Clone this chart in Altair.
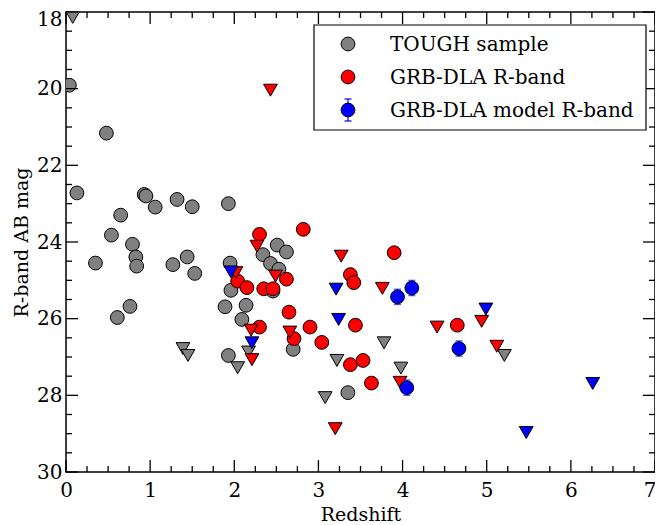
import altair as alt
import pandas as pd

FONT = "DejaVu Serif"
W, H = 589, 460

# ---- data ----
tough_z = [0.04, 0.48, 0.13, 0.93, 0.95, 1.06, 1.32, 1.50, 1.93, 0.65, 0.54, 0.79, 0.83, 0.84,
           0.35, 1.27, 1.44, 1.53, 1.95, 1.96, 0.76, 0.61, 1.89, 2.14, 2.09, 1.93, 2.51, 2.62,
           2.34, 2.43, 2.53, 2.46, 2.70, 3.35]
tough_mag = [19.91, 21.16, 22.72, 22.76, 22.80, 23.09, 22.89, 23.08, 23.00, 23.30, 23.82, 24.06,
             24.39, 24.63, 24.55, 24.59, 24.39, 24.82, 24.55, 25.26, 25.68, 25.97, 25.69, 25.65,
             26.02, 26.96, 24.08, 24.26, 24.33, 24.56, 24.71, 25.28, 26.80, 27.93]

tough_lim_z = [0.08, 1.39, 1.45, 2.04, 2.17, 3.22, 3.08, 3.78, 3.98, 5.21]
tough_lim_mag = [18.14, 26.78, 26.96, 27.28, 26.87, 27.09, 28.06, 26.63, 27.29, 26.96]

red_z = [2.82, 2.30, 2.04, 2.15, 2.35, 2.46, 2.62, 3.38, 3.42, 3.90, 2.65, 2.30, 2.90, 3.44,
         2.71, 3.04, 3.38, 3.53, 3.63, 4.65]
red_mag = [23.67, 23.80, 25.02, 25.19, 25.22, 25.22, 24.97, 24.85, 25.06, 24.28, 25.83, 26.22,
           26.22, 26.17, 26.52, 26.62, 27.20, 27.09, 27.68, 26.17]

red_lim_z = [2.43, 2.27, 2.49, 3.27, 3.76, 2.02, 2.20, 2.66, 2.21, 3.20, 3.97, 4.41, 4.94, 5.12]
red_lim_mag = [20.04, 24.11, 24.89, 24.37, 25.21, 24.80, 26.30, 26.35, 27.07, 28.87, 27.66,
               26.22, 26.07, 26.72]

blue_z = [3.94, 4.11, 4.67, 4.05]
blue_mag = [25.43, 25.20, 26.78, 27.80]
blue_err = [0.2, 0.2, 0.2, 0.2]

blue_lim_z = [1.96, 2.21, 3.21, 3.24, 4.99, 5.47, 6.26]
blue_lim_mag = [24.78, 26.63, 25.23, 26.02, 25.75, 28.97, 27.69]

x_major = [0, 1, 2, 3, 4, 5, 6, 7]
x_minor = [0.25, 0.5, 0.75, 1.25, 1.5, 1.75, 2.25, 2.5, 2.75, 3.25, 3.5, 3.75,
           4.25, 4.5, 4.75, 5.25, 5.5, 5.75, 6.25, 6.5, 6.75]
y_major = [18, 20, 22, 24, 26, 28, 30]
y_minor = [18.5, 19, 19.5, 20.5, 21, 21.5, 22.5, 23, 23.5, 24.5, 25, 25.5,
           26.5, 27, 27.5, 28.5, 29, 29.5]

legend_labels = ["TOUGH sample", "GRB-DLA R-band", "GRB-DLA model R-band"]
legend_colors = ["#808080", "#ff0000", "#0000ff"]

# ---- scales / axes ----
xs = alt.Scale(domain=[0, 7], nice=False, zero=False)
ys = alt.Scale(domain=[18, 30], nice=False, zero=False, reverse=True)
xaxis = alt.Axis(values=x_major, title="Redshift", ticks=False, domain=False, grid=False,
                 labelPadding=8, format="d", labelFlush=False,
                 labelAlign=alt.ExprRef(expr="datum.value == 7 ? 'right' : 'center'"),
                 labelOffset=alt.ExprRef(expr="datum.value == 7 ? 1 : 0"),
                 titleFontSize=19, titleY=48, titleBaseline="alphabetic")
yaxis = alt.Axis(values=y_major, title="R-band AB mag", ticks=False, domain=False, grid=False,
                 labelPadding=4, titlePadding=5, titleFontSize=19, format="d", labelFlush=False,
                 labelBaseline=alt.ExprRef(expr="datum.value == 18 ? 'top' : 'middle'"),
                 labelOffset=alt.ExprRef(expr="datum.value == 18 ? -3 : 0"))


def X(f="z"):
    return alt.X(f"{f}:Q", scale=xs, axis=xaxis)


def Y(f="mag"):
    return alt.Y(f"{f}:Q", scale=ys, axis=yaxis)


def pts(z, m, color, shape):
    df = pd.DataFrame({"z": z, "mag": m})
    return alt.Chart(df).mark_point(
        shape=shape, size=190, filled=True, fill=color, stroke="black",
        strokeWidth=1, opacity=1, fillOpacity=1, clip=True
    ).encode(x=X(), y=Y())


layers = []
layers.append(pts(tough_z, tough_mag, "#808080", "circle"))
layers.append(pts(tough_lim_z, tough_lim_mag, "#808080", "triangle-down"))
layers.append(pts(red_z, red_mag, "#ff0000", "circle"))
layers.append(pts(red_lim_z, red_lim_mag, "#ff0000", "triangle-down"))

bdf = pd.DataFrame({"z": blue_z, "mag": blue_mag, "err": blue_err})
bdf["lo"] = bdf["mag"] - bdf["err"]
bdf["hi"] = bdf["mag"] + bdf["err"]
layers.append(alt.Chart(bdf).mark_rule(color="#0000ff", strokeWidth=1.2).encode(
    x=X(), y=Y("lo"), y2="hi:Q"))
layers.append(alt.Chart(bdf).mark_tick(color="#0000ff", orient="horizontal", size=7,
                                       thickness=1.2).encode(x=X(), y=Y("lo")))
layers.append(alt.Chart(bdf).mark_tick(color="#0000ff", orient="horizontal", size=7,
                                       thickness=1.2).encode(x=X(), y=Y("hi")))
layers.append(pts(blue_z, blue_mag, "#0000ff", "circle"))
layers.append(pts(blue_lim_z, blue_lim_mag, "#0000ff", "triangle-down"))

# ---- inward ticks on all four sides ----
def xticks(vals, length):
    df = pd.DataFrame({"z": vals})
    bot = alt.Chart(df).mark_rule(color="black", strokeWidth=1.3).encode(
        x=X(), y=alt.value(H), y2=alt.value(H - length))
    top = alt.Chart(df).mark_rule(color="black", strokeWidth=1.3).encode(
        x=X(), y=alt.value(0), y2=alt.value(length))
    return [bot, top]


def yticks(vals, length):
    df = pd.DataFrame({"mag": vals})
    left = alt.Chart(df).mark_rule(color="black", strokeWidth=1.3).encode(
        y=Y(), x=alt.value(0), x2=alt.value(length))
    right = alt.Chart(df).mark_rule(color="black", strokeWidth=1.3).encode(
        y=Y(), x=alt.value(W), x2=alt.value(W - length))
    return [left, right]


layers += xticks(x_major, 12) + xticks(x_minor, 6) + yticks(y_major, 12) + yticks(y_minor, 6)

# ---- legend box ----
one = pd.DataFrame({"a": [0]})
layers.append(alt.Chart(one).mark_rect(fill="white", stroke="black", strokeWidth=1.2).encode(
    x=alt.value(248), x2=alt.value(580), y=alt.value(13), y2=alt.value(118)))
rows_y = [32, 65, 98]
for lab, col, ry in zip(legend_labels, legend_colors, rows_y):
    if col == "#0000ff":
        layers.append(alt.Chart(one).mark_rule(color=col, strokeWidth=1.2).encode(
            x=alt.value(282), y=alt.value(ry - 11), y2=alt.value(ry + 11)))
        for cy in (ry - 11, ry + 11):
            layers.append(alt.Chart(one).mark_rule(color=col, strokeWidth=1.2).encode(
                x=alt.value(278.5), x2=alt.value(285.5), y=alt.value(cy)))
    layers.append(alt.Chart(one).mark_point(
        shape="circle", size=190, filled=True, fill=col, stroke="black", strokeWidth=1,
        opacity=1).encode(x=alt.value(282), y=alt.value(ry)))
    layers.append(alt.Chart(one).mark_text(
        text=lab, align="left", baseline="middle", font=FONT, fontSize=20, color="black"
    ).encode(x=alt.value(324), y=alt.value(ry + 1)))

chart = alt.layer(*layers).properties(
    width=W, height=H,
    autosize=alt.AutoSizeParams(type="none"),
    padding={"left": 58, "top": 4, "right": 0, "bottom": 53},
).configure_view(stroke="black", strokeWidth=1.5).configure_axis(
    labelFont=FONT, labelFontSize=20, labelColor="black",
    titleFont=FONT, titleFontSize=20, titleColor="black", titleFontWeight="normal",
)

chart.save("out.html", embed_options={"renderer": "svg", "actions": False})
